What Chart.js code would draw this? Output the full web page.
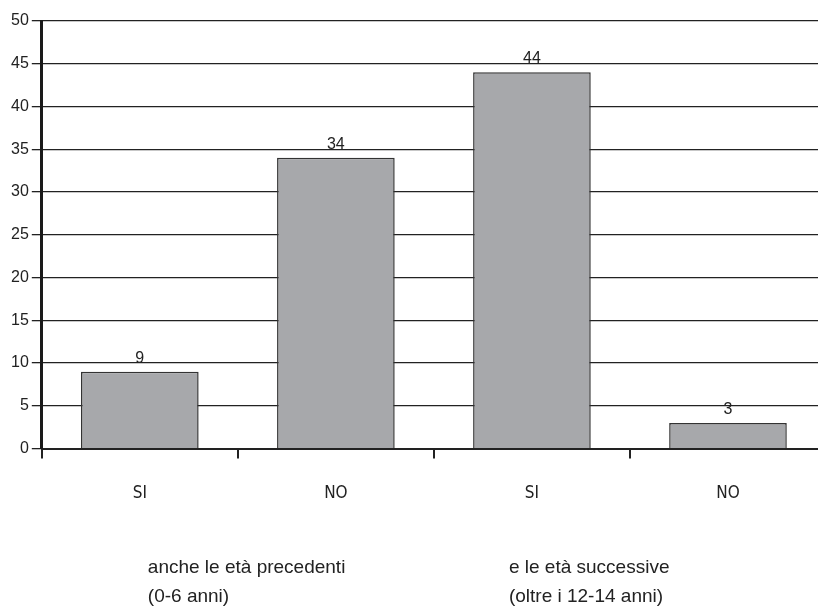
<!DOCTYPE html>
<html lang="it">
<head>
<meta charset="utf-8">
<title>SI / NO per fascia d'età</title>
<script src="https://cdn.jsdelivr.net/npm/chart.js@4/dist/chart.umd.min.js"></script>
<style>
    html, body { margin: 0; padding: 0; background: #fff; overflow: hidden; }
    #wrap { width: 830px; height: 611px; }
</style>
</head>
<body>
<div id="wrap"><canvas id="grafico" width="830" height="611"></canvas></div>
<script>
// Risposte SI / NO, due gruppi di età
const categorie = ['SI', 'NO', 'SI', 'NO'];
const valori = [9, 34, 44, 3];
const tickY = [0, 5, 10, 15, 20, 25, 30, 35, 40, 45, 50];
const gruppi = [
    ['anche le età precedenti', '(0-6 anni)'],
    ['e le età successive', '(oltre i 12-14 anni)']
];

// Etichette numeriche sopra le barre
const etichetteValori = {
    id: 'etichetteValori',
    afterDatasetsDraw(chart) {
        const ctx = chart.ctx;
        const meta = chart.getDatasetMeta(0);
        ctx.save();
        ctx.font = '16px "Liberation Sans", Arial, sans-serif';
        ctx.fillStyle = '#222';
        ctx.textAlign = 'center';
        ctx.textBaseline = 'alphabetic';
        meta.data.forEach((bar, i) => {
            ctx.fillText(String(valori[i]), bar.x, bar.y - 9);
        });
        ctx.restore();
    }
};

// Didascalie dei gruppi sotto l'asse
const didascalieGruppi = {
    id: 'didascalieGruppi',
    afterDraw(chart) {
        const ctx = chart.ctx;
        const x = chart.scales.x;
        const partenze = [x.getPixelForValue(0) + 8, x.getPixelForValue(2) - 23];
        ctx.save();
        ctx.font = '19px "Liberation Sans", Arial, sans-serif';
        ctx.fillStyle = '#222';
        ctx.textAlign = 'left';
        ctx.textBaseline = 'middle';
        gruppi.forEach((righe, g) => {
            righe.forEach((riga, r) => {
                ctx.fillText(riga, partenze[g], 568 + r * 29);
            });
        });
        ctx.restore();
    }
};

new Chart(document.getElementById('grafico'), {
    type: 'bar',
    data: {
        labels: categorie,
        datasets: [{
            data: valori,
            backgroundColor: '#a7a8ab',
            borderColor: '#333',
            borderWidth: 1.5,
            borderSkipped: 'bottom',
            categoryPercentage: 0.6,
            barPercentage: 1
        }]
    },
    options: {
        responsive: false,
        animation: false,
        layout: { padding: { top: 21, left: 8, right: 4, bottom: 82 } },
        plugins: {
            legend: { display: false },
            tooltip: { enabled: false }
        },
        scales: {
            x: {
                offset: true,
                border: { color: '#222', width: 2 },
                grid: {
                    offset: true,
                    drawOnChartArea: false,
                    drawTicks: true,
                    tickLength: 10,
                    color: '#222',
                    lineWidth: 2
                },
                ticks: {
                    padding: 25,
                    color: '#222',
                    font: { family: '"Liberation Sans Narrow", "DejaVu Sans Condensed", sans-serif', size: 17 }
                }
            },
            y: {
                min: 0,
                max: 50,
                afterBuildTicks(scale) {
                    scale.ticks = tickY.map(v => ({ value: v }));
                },
                border: { color: '#1a1a1a', width: 3 },
                grid: {
                    color: '#222',
                    lineWidth: 1.3,
                    tickLength: 10
                },
                ticks: {
                    padding: 3,
                    color: '#222',
                    font: { family: '"Liberation Sans", Arial, sans-serif', size: 16 }
                }
            }
        }
    },
    plugins: [etichetteValori, didascalieGruppi]
});
</script>
</body>
</html>
